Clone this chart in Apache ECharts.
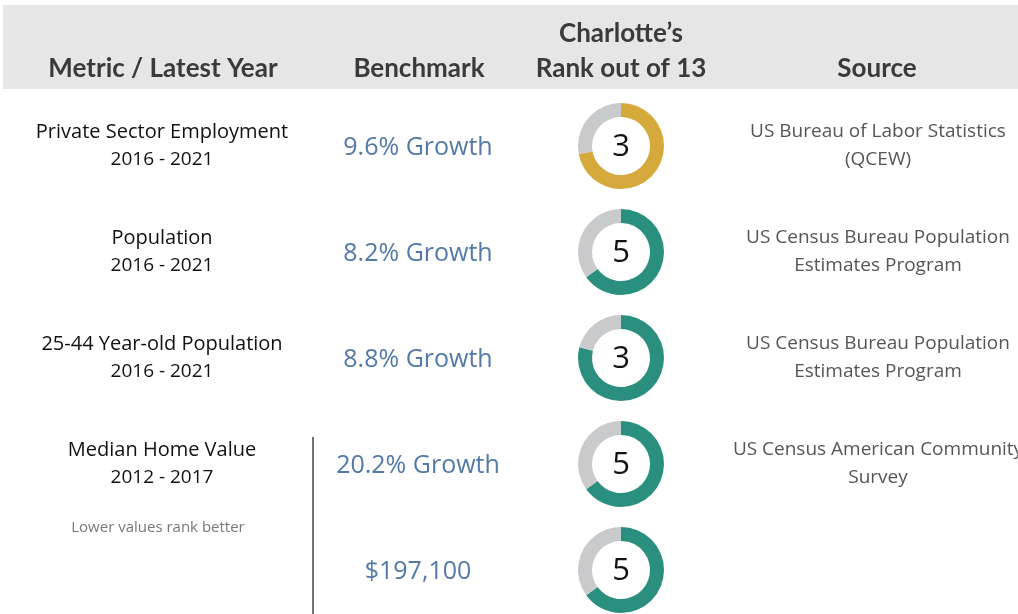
<!DOCTYPE html>
<html><head><meta charset="utf-8">
<script src="https://cdn.jsdelivr.net/npm/echarts@6/dist/echarts.min.js"></script>
<style>html,body{margin:0;padding:0;background:#fff}#c{width:1018px;height:614px}</style>
</head><body><div id="c"></div>
<script>
const headers = ["Metric / Latest Year", "Benchmark", "Charlotte\u2019s\nRank out of 13", "Source"];
const metrics = ["Private Sector Employment", "Population", "25-44 Year-old Population", "Median Home Value", ""];
const periods = ["2016 - 2021", "2016 - 2021", "2016 - 2021", "2012 - 2017", ""];
const benchmarks = ["9.6% Growth", "8.2% Growth", "8.8% Growth", "20.2% Growth", "$197,100"];
const ranks = [3, 5, 3, 5, 5];
const fills = [0.72, 0.65, 0.79, 0.65, 0.65];
const sources = ["US Bureau of Labor Statistics\n(QCEW)", "US Census Bureau Population\nEstimates Program", "US Census Bureau Population\nEstimates Program", "US Census American Community\nSurvey", ""];
const ringColors = ["#d6a93c", "#2a8f7e", "#2a8f7e", "#2a8f7e", "#2a8f7e"];
const note = "Lower values rank better";

const chart = echarts.init(document.getElementById('c'), null, {renderer: 'canvas'});
const rowY = [146, 252, 358, 464, 570];
const HFONT = 'Lato';
const FONT = '"Open Sans"';
const graphics = [];
graphics.push({type: 'rect', shape: {x: 3, y: 5, width: 1015, height: 84}, style: {fill: '#e6e6e6'}, z: 0});
const hx = [163, 419, 621, 877];
headers.forEach((h, i) => {
  graphics.push({type: 'text', x: hx[i], y: 86, style: {text: h, font: `bold 26px ${HFONT}`, fill: '#3a3a3a', textAlign: 'center', textVerticalAlign: 'bottom', lineHeight: 35}, z: 2});
});
rowY.forEach((y, i) => {
  if (metrics[i]) {
    graphics.push({type: 'text', x: 162, y: y - 14, style: {text: metrics[i], font: `500 20px ${FONT}`, fill: '#111', textAlign: 'center', textVerticalAlign: 'middle'}, z: 2});
    graphics.push({type: 'text', x: 162, y: y + 14, style: {text: periods[i], font: `19px ${FONT}`, fill: '#111', textAlign: 'center', textVerticalAlign: 'middle'}, z: 2});
  }
  graphics.push({type: 'text', x: 418, y: y + 2, style: {text: benchmarks[i], font: `25px ${FONT}`, fill: '#5279a8', textAlign: 'center', textVerticalAlign: 'middle'}, z: 2});
  graphics.push({type: 'text', x: 621, y: y + 1, style: {text: String(ranks[i]), font: `31px ${FONT}`, fill: '#111', textAlign: 'center', textVerticalAlign: 'middle'}, z: 3});
  if (sources[i]) {
    graphics.push({type: 'text', x: 878, y: y, style: {text: sources[i], font: `19px ${FONT}`, fill: '#555', textAlign: 'center', textVerticalAlign: 'middle', lineHeight: 28}, z: 2});
  }
});
graphics.push({type: 'text', x: 158, y: 528, style: {text: note, font: `15px ${FONT}`, fill: '#777', textAlign: 'center', textVerticalAlign: 'middle'}, z: 2});
graphics.push({type: 'line', shape: {x1: 313, y1: 437, x2: 313, y2: 614}, style: {stroke: '#444', lineWidth: 1.5}, z: 2});

const series = ranks.map((r, i) => ({
  type: 'pie', center: [621, rowY[i]], radius: [29, 43], startAngle: 90, clockwise: true,
  silent: true, label: {show: false}, labelLine: {show: false}, animation: false,
  data: [
    {value: fills[i], name: 'rank', itemStyle: {color: ringColors[i]}},
    {value: 1 - fills[i], name: 'rest', itemStyle: {color: '#c9cacc'}}
  ]
}));

chart.setOption({animation: false, backgroundColor: '#fff', graphic: graphics, series: series});
</script></body></html>
